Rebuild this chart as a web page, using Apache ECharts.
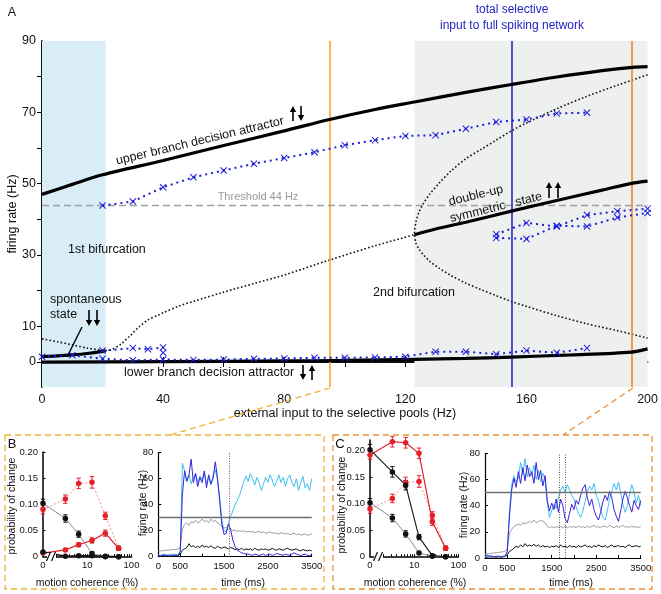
<!DOCTYPE html>
<html><head><meta charset="utf-8">
<script src="https://cdn.jsdelivr.net/npm/echarts@6/dist/echarts.min.js"></script>
<style>html,body{margin:0;padding:0;background:#fff}#c{width:661px;height:594px}</style>
</head><body><div id="c"></div>
<script>
// ================= DATA =================
// Panel A: bifurcation diagram (x = external input Hz, y = firing rate Hz)
const upperBranch = [[0,47],[10,49.8],[20,52.5],[40,56.5],[60,60.7],[80,64.8],[95,68],[110,70.8],[123,72.9],[140,75.6],[155,77.8],[170,79.9],[185,81.7],[195,82.6],[200,82.8]];
const lowerBranch = [[0,0],[40,0.1],[80,0.3],[100,0.45],[123,0.75],[140,1],[155,1.4],[175,2],[194.7,2.8],[200,3.7]];
const spontaneous = [[0,1.5],[5,1.7],[10,2],[15,2.4],[20,3],[21,3.2]];
const doubleUp = [[123,35.7],[130,37.3],[140,39.2],[155,42.3],[170,45.3],[185,48.2],[194.7,50.1],[200,50.7]];
const unstableLow = [[0,6.5],[5,5.7],[10,4.8],[15,3.9],[21,3.2]];
const unstableRise = [[21,3.2],[23,3.5],[26,5],[29,7.3],[32,9.8],[35,11.8],[38,13],[40,13.8],[45,15.6],[50,17],[60,19.6],[70,22],[80,24.4],[95,28.6],[110,32.6],[123,35.7]];
const pitchUpper = [[123,35.7],[123.5,39.3],[124.5,42],[126,44.5],[128,47],[131,50],[135,53.5],[140,57],[145,59.6],[150,62.2],[155,64.8],[160,67],[170,71],[180,74.5],[190,77.6],[200,80.5]];
const pitchLower = [[123,35.7],[123.5,33.4],[124.5,31.7],[126,30],[128,28.3],[131,26.4],[135,24.3],[140,22.1],[145,20.3],[150,18.6],[155,17],[160,15.6],[170,13],[180,10.7],[190,8.8],[200,6.7]];
const spikeUpper = [[20,43.9],[30,45],[40,49],[50,51.8],[60,53.7],[70,55.6],[80,57.2],[90,58.8],[100,60.8],[110,62.2],[120,63.4],[130,63.6],[140,65.4],[150,67.3],[160,68],[170,69.7],[180,69.9]];
const spikeLower = [[0,1.5],[10,1.9],[20,0.9],[30,0.5],[40,0.7],[50,0.6],[60,0.7],[70,0.9],[80,1.0],[90,1.2],[100,1.2],[110,1.3],[120,1.5],[130,2.9],[140,2.9],[150,2.2],[160,3.2],[170,2.6],[180,3.9]];
const spikeMid = [[20,3.2],[30,3.9],[35,3.6],[40,4.1],[40,2.6]];
const spikeDU1 = [[150,35.8],[160,39],[170,38],[180,41.2],[190,42.3],[200,43]];
const spikeDU2 = [[150,34.8],[160,34.5],[170,38.2],[180,38],[190,40.5],[200,41.8]];
const threshold = 44;
const bif1 = 21, bif2 = 123, inputB = 95, inputBlue = 155, inputC = 194.7;

// Panels B/C left: probability of change vs motion coherence
const coherence = [0, 3.2, 6.4, 12.8, 25.6, 51.2];
const bRedDotted = [0.090, 0.110, 0.140, 0.142, 0.078, 0.016];
const bRedDottedErr = [0.008, 0.008, 0.010, 0.011, 0.007, 0.004];
const bRedSolid = [0.007, 0.013, 0.023, 0.031, 0.045, 0.016];
const bRedSolidErr = [0.002, 0.003, 0.004, 0.005, 0.006, 0.004];
const bBlackThin = [0.102, 0.073, 0.043, 0.006, 0.000, 0.000];
const bBlackThinErr = [0.008, 0.007, 0.006, 0.003, 0.001, 0.001];
const bBlackSolid = [0.009, 0.001, 0.002, 0.002, 0.001, 0.000];
const cRedSolid = [0.192, 0.217, 0.215, 0.195, 0.066, 0.016];
const cRedSolidErr = [0.008, 0.010, 0.010, 0.010, 0.007, 0.004];
const cRedDotted = [0.090, 0.110, 0.140, 0.142, 0.078, 0.016];
const cRedDottedErr = [0.008, 0.008, 0.010, 0.011, 0.007, 0.004];
const cBlackSolid = [0.202, 0.160, 0.135, 0.037, 0.002, 0.000];
const cBlackSolidErr = [0.010, 0.010, 0.009, 0.005, 0.002, 0.001];
const cBlackThin = [0.102, 0.073, 0.043, 0.007, 0.001, 0.000];
const cBlackThinErr = [0.008, 0.007, 0.006, 0.003, 0.001, 0.001];

// Panels B/C right: firing rate time courses, sampled every 50 ms from 0 to 3500 ms
const timeStep = 50;
const bCyan = [1.5,1,2,1.5,1,2,1.5,1,2,1.5,3,72,66,58,63,56,61,64,57,62,59,65,56,61,55,63,67,59,46,28,20,19,26,31,35,40,43,47,52,58,62,58,64,60,55,61,57,51,56,61,57,63,59,54,58,63,57,61,54,60,63,57,54,60,51,57,62,53,56,51,60];
const bBlue = [1,0.5,1,1.5,1,0.5,1,1.5,1,1,4,48,66,58,63,75,57,64,54,61,57,66,53,63,56,60,73,61,43,25,17,18,25,21,13,8,5,4,3,2.5,2,2,1.5,1,2,1.5,1,1.5,2,1,1.5,2,1,1.5,2.5,2,1.5,1,2,1.5,1,2,3,2,1.5,1,1.5,2,1,1,1.5];
const bGray = [4,4.5,4.5,5,5,5,5.5,5.5,5.5,6,7,21,25,26,24,27,26,28,26,27,29,27,28,26,29,27,28,26,25,23,22,22.5,21,21.5,20,20.5,19.5,20,19.5,20,19,19.5,19,19.5,18.5,19,19.5,18.5,19,18,18.5,19,18,18.5,18,17.5,18.5,18,17.5,18,17,17.5,18,17,17.5,16.5,17,17.5,16.5,17,17.5];
const bBlack = [0.5,0.5,1,0.5,1,0.5,0.5,1,0.5,1,2,5,6,7,10,7.5,8.5,7,8,7,9,7.5,8,7,8.5,7,6.5,8,7,6.5,7.5,7,6,7,6.5,5.5,6,5.5,6.5,5,6,5.5,6,5,6.5,5.5,5,6,5.5,6,5,5.5,6.5,5.5,5,6,5.5,5,6,6.5,5.5,5,5.5,6,5,4.5,5.5,5,4.5,5,4.5];
const cBlue = [2,2,1.5,1.5,1,1,1.5,1,1,1.5,5,32,52,61,54,66,57,69,59,71,62,66,57,73,60,67,55,63,44,36,42,37,45,35,45,40,30,27,34,41,37,44,41,48,53,56,46,40,45,37,32,29,35,43,48,44,51,46,37,32,28,36,45,51,46,40,35,44,40,37,44];
const cCyan = [1,1,1.5,1,1,1.5,1,1,1.5,1,4,36,56,63,58,61,73,64,76,62,69,63,71,60,67,58,65,60,42,31,36,41,38,46,52,55,50,56,52,48,45,39,34,31,36,43,51,55,52,57,48,44,37,31,29,36,45,51,57,52,58,50,41,35,40,49,56,50,42,48,40];
const cGray = [3,3.2,3.4,3.6,3.8,4,4.2,4.5,4.8,5,7,19,22,24,25,26,25,27,26,27,28,27,29,27,28,29,28,27,24,23,24,23,24,23.5,24,23,24.5,23,24,23.5,24,23,24.5,23.5,24,23,24.5,23.5,24,25,23.5,24,23,24.5,24,23.5,25,24,23,24.5,23.5,24,25,23.5,24,23,24.5,23.5,24,23,24];
const cBlack = [0.5,0.5,1,0.5,1,0.5,1,0.5,1,1,2.5,5,6,7.5,9,8,10,8.5,11,9,10,9,10.5,9,10,8.5,9.5,8.5,9,8,9,8.5,9.5,8,10,8.5,9,8,9.5,8.5,9,8,9.5,8.5,9,10,8.5,9,8,9.5,8.5,10,9,8.5,9.5,8,9,10,8.5,9,9.5,8.5,9,8,9.5,10,8.5,9,9.5,8.5,9];
const bThresholdLine = 30, cThresholdLine = 50;
const bMarks = [1625], cMarks = [1660, 1810];

// ================= BUILD =================
const FONT = 'Liberation Sans, Arial, Helvetica, sans-serif';
const chart = echarts.init(document.getElementById('c'), null, {renderer:'canvas'});
const lg = c => c === 0 ? 0 : Math.log10(c);
const ts = arr => arr.map((v, i) => [i * timeStep, v]);
const cp = arr => arr.map((v, i) => [lg(coherence[i]), v]);
const ep = (arr, err) => arr.map((v, i) => [lg(coherence[i]), v - err[i], v + err[i]]);

const minorLog = [];
for (let k = 2; k <= 9; k++) minorLog.push(Math.log10(k));
minorLog.push(1);
for (let k = 2; k <= 9; k++) minorLog.push(Math.log10(k * 10));
minorLog.push(2);

function errSeries(xi, yi, data, color){
  return {type:'custom', xAxisIndex:xi, yAxisIndex:yi, z:5, silent:true, clip:false,
    renderItem:(p, api) => {
      const x = api.value(0), a = api.coord([x, api.value(2)]), b = api.coord([x, api.value(1)]);
      const w = 2.2, st = {stroke:color, lineWidth:1};
      return {type:'group', children:[
        {type:'line', shape:{x1:a[0], y1:a[1], x2:b[0], y2:b[1]}, style:st},
        {type:'line', shape:{x1:a[0]-w, y1:a[1], x2:a[0]+w, y2:a[1]}, style:st},
        {type:'line', shape:{x1:b[0]-w, y1:b[1], x2:b[0]+w, y2:b[1]}, style:st}]};
    }, data};
}
function probLine(xi, yi, arr, lineColor, markerColor, width, type){
  return {type:'line', xAxisIndex:xi, yAxisIndex:yi, data:cp(arr), symbol:'circle', symbolSize:5.5, z:6, clip:false,
    itemStyle:{color:markerColor}, lineStyle:{color:lineColor, width, type}, silent:true};
}
function trace(xi, yi, arr, color, extra){
  return Object.assign({type:'line', xAxisIndex:xi, yAxisIndex:yi, data:ts(arr), showSymbol:false, symbol:'none',
    lineStyle:{color, width:1}, silent:true, z:3}, extra || {});
}
const X_SYM = 'path://M0,1L1,0L5,4L9,0L10,1L6,5L10,9L9,10L5,6L1,10L0,9L4,5Z';
const BLUE = '#1c1cd8';
function spike(arr){
  return {type:'line', xAxisIndex:0, yAxisIndex:0, data:arr, symbol:X_SYM, symbolSize:7, showSymbol:true, z:6,
    itemStyle:{color:BLUE}, lineStyle:{color:BLUE, width:2, type:[2,4]}, silent:true};
}
function thick(arr){
  return {type:'line', xAxisIndex:0, yAxisIndex:0, data:arr, showSymbol:false, symbol:'none', smooth:0.3, z:5,
    lineStyle:{color:'#000', width:3.2}, silent:true};
}
function dotted(arr){
  return {type:'line', xAxisIndex:0, yAxisIndex:0, data:arr, showSymbol:false, symbol:'none', smooth:0.3, z:4,
    lineStyle:{color:'#111', width:1.6, type:[1.6,2.2]}, silent:true};
}

const axLine = w => ({show:true, lineStyle:{color:'#000', width:w}});
const lbl = (size, vals, extra) => Object.assign({show:true, fontSize:size, color:'#111', fontFamily:FONT, customValues:vals}, extra || {});
const tick = (vals, len) => ({show:true, inside:true, length:len, customValues:vals, lineStyle:{color:'#000', width:1}});
const every = (a, b, s) => { const r = []; for (let v = a; v <= b + 1e-9; v += s) r.push(v); return r; };
const logFmt = v => v === 0 ? '0' : String(Math.round(Math.pow(10, v)));
const plain = v => String(v);
const probFmt = v => v === 0 ? '0' : v.toFixed(2);

const grids = [
  {left:42, top:41, width:606, height:346},
  {left:43, top:452, width:88.5, height:104.7},
  {left:158.3, top:452.7, width:153.4, height:104},
  {left:370, top:440.1, width:88.5, height:116.6},
  {left:485, top:453.3, width:155.7, height:104.7}
];
const SM = 9.5;
const xAxes = [
  {type:'value', gridIndex:0, min:0, max:200, axisLine:axLine(1.5), splitLine:{show:false},
    axisLabel:lbl(12.5, [0,40,80,120,160,200], {margin:6}), axisTick:tick(every(20,180,20), 5)},
  {type:'value', gridIndex:0, min:0, max:200, position:'top', axisLine:axLine(1.5), splitLine:{show:false},
    axisLabel:{show:false}, axisTick:tick(every(20,180,20), 5)},
  {type:'value', gridIndex:1, min:0, max:2, axisLine:axLine(1.5), splitLine:{show:false},
    axisLabel:lbl(SM, [0,1,2], {margin:4, formatter:logFmt}), axisTick:tick(minorLog, 2.5)},
  {type:'value', gridIndex:2, min:0, max:3500, axisLine:axLine(1.2), splitLine:{show:false},
    axisLabel:lbl(SM, [0,500,1500,2500,3500], {margin:5, formatter:plain}), axisTick:tick(every(500,3500,500), 3)},
  {type:'value', gridIndex:3, min:0, max:2, axisLine:axLine(1.5), splitLine:{show:false},
    axisLabel:lbl(SM, [0,1,2], {margin:4, formatter:logFmt}), axisTick:tick(minorLog, 2.5)},
  {type:'value', gridIndex:4, min:0, max:3500, axisLine:axLine(1.2), splitLine:{show:false},
    axisLabel:lbl(SM, [0,500,1500,2500,3500], {margin:5, formatter:plain}), axisTick:tick(every(500,3500,500), 3)}
];
const yAxes = [
  {type:'value', gridIndex:0, min:-7, max:90, axisLine:axLine(1.5), splitLine:{show:false},
    axisLabel:lbl(12.5, [0,10,30,50,70,90], {margin:6}), axisTick:tick([0,10,30,50,70], 5)},
  {type:'value', gridIndex:0, min:-7, max:90, position:'right', axisLine:axLine(1.5), splitLine:{show:false},
    axisLabel:{show:false}, axisTick:tick(every(0,80,10), 5)},
  {type:'value', gridIndex:1, min:0, max:0.2, axisLine:axLine(1.5), splitLine:{show:false},
    axisLabel:lbl(SM, [0,0.05,0.1,0.15,0.2], {margin:5, formatter:probFmt}), axisTick:tick([0.05,0.1,0.15,0.2], 2.5)},
  {type:'value', gridIndex:2, min:0, max:80, axisLine:axLine(1.2), splitLine:{show:false},
    axisLabel:lbl(SM, [0,20,40,60,80], {margin:5}), axisTick:tick([20,40,60,80], 3)},
  {type:'value', gridIndex:3, min:0, max:0.22, axisLine:axLine(1.5), splitLine:{show:false},
    axisLabel:lbl(SM, [0,0.05,0.1,0.15,0.2], {margin:5, formatter:probFmt}), axisTick:tick([0.05,0.1,0.15,0.2], 2.5)},
  {type:'value', gridIndex:4, min:0, max:80, axisLine:axLine(1.2), splitLine:{show:false},
    axisLabel:lbl(SM, [0,20,40,60,80], {margin:5}), axisTick:tick([20,40,60,80], 3)}
];

const vline = (x, color, width, type) => ({xAxis:x, lineStyle:{color, width, type:type || 'solid'}});
const series = [
  {type:'line', xAxisIndex:0, yAxisIndex:0, data:[], z:1, silent:true,
    markArea:{silent:true, data:[
      [{xAxis:0, yAxis:-7, itemStyle:{color:'#d9edf7'}}, {xAxis:bif1, yAxis:90}],
      [{xAxis:bif2, yAxis:-7, itemStyle:{color:'#eef0f0'}}, {xAxis:200, yAxis:90}]]},
    markLine:{silent:true, symbol:'none', label:{show:false}, animation:false, data:[
      vline(inputB, '#f3a82b', 1.6), vline(inputC, '#ef8b22', 1.6), vline(inputBlue, '#2a2ab8', 1.6),
      {yAxis:threshold, lineStyle:{color:'#a0a0a0', width:1.3, type:[7,4]}}]}},
  dotted(unstableLow), dotted(unstableRise),
  dotted(pitchUpper.slice().reverse().concat(pitchLower.slice(1))),
  thick(upperBranch), thick(lowerBranch), thick(spontaneous), thick(doubleUp),
  spike(spikeUpper), spike(spikeLower), spike(spikeMid), spike(spikeDU1), spike(spikeDU2),

  // B left
  probLine(2, 2, bRedDotted, '#f08c8c', '#e4202a', 1, [2,2]),
  probLine(2, 2, bRedSolid, '#e4202a', '#e4202a', 1.2, 'solid'),
  probLine(2, 2, bBlackThin, '#8a8a8a', '#111', 1, 'solid'),
  probLine(2, 2, bBlackSolid, '#111', '#111', 1.5, 'solid'),
  errSeries(2, 2, ep(bRedDotted, bRedDottedErr), '#e4202a'),
  errSeries(2, 2, ep(bRedSolid, bRedSolidErr), '#e4202a'),
  errSeries(2, 2, ep(bBlackThin, bBlackThinErr), '#111'),
  // C left
  probLine(4, 4, cRedDotted, '#f08c8c', '#e4202a', 1, [2,2]),
  probLine(4, 4, cRedSolid, '#e4202a', '#e4202a', 1.2, 'solid'),
  probLine(4, 4, cBlackThin, '#8a8a8a', '#111', 1, 'solid'),
  probLine(4, 4, cBlackSolid, '#222', '#111', 1.2, 'solid'),
  errSeries(4, 4, ep(cRedDotted, cRedDottedErr), '#e4202a'),
  errSeries(4, 4, ep(cRedSolid, cRedSolidErr), '#e4202a'),
  errSeries(4, 4, ep(cBlackThin, cBlackThinErr), '#111'),
  errSeries(4, 4, ep(cBlackSolid, cBlackSolidErr), '#111'),

  // B right
  trace(3, 3, bGray, '#9c9c9c', {markLine:{silent:true, symbol:'none', label:{show:false}, animation:false, data:[
    {yAxis:bThresholdLine, lineStyle:{color:'#707070', width:1.3, type:'solid'}},
    ...bMarks.map(m => vline(m, '#555', 1, [1,1.5]))]}}),
  trace(3, 3, bBlack, '#111'),
  trace(3, 3, bCyan, '#3fc0ee'),
  trace(3, 3, bBlue, '#3b22d8', {z:4}),
  // C right
  trace(5, 5, cGray, '#9c9c9c', {markLine:{silent:true, symbol:'none', label:{show:false}, animation:false, data:[
    {yAxis:cThresholdLine, lineStyle:{color:'#707070', width:1.3, type:'solid'}},
    ...cMarks.map(m => vline(m, '#555', 1, [1,1.5]))]}}),
  trace(5, 5, cBlack, '#111'),
  trace(5, 5, cCyan, '#3fc0ee'),
  trace(5, 5, cBlue, '#3b22d8', {z:4})
];

// ---------- annotations ----------
const T = (text, x, y, opt) => Object.assign({type:'text', x, y, z:100, silent:true,
  style:Object.assign({text, fontSize:12.5, fontFamily:FONT, fill:'#111', align:'center', verticalAlign:'middle'}, (opt && opt.style) || {})},
  opt && opt.rotation !== undefined ? {rotation:opt.rotation} : {});
const L = (x1, y1, x2, y2, stroke, lw, dash) => ({type:'line', z:100, silent:true, shape:{x1, y1, x2, y2},
  style:{stroke, lineWidth:lw, lineDash:dash || null}});
function arrow(x, y1, y2, up){
  const head = 6, hw = 3.2;
  const tip = up ? y1 : y2;
  const base = up ? y1 + head : y2 - head;
  return [
    L(x, up ? base : y1, x, up ? y2 : base, '#000', 1.6),
    {type:'polygon', z:100, silent:true, shape:{points:[[x, tip], [x - hw, base], [x + hw, base]]}, style:{fill:'#000'}}
  ];
}
const deg = d => d * Math.PI / 180;
const NS = 10.5;
const graphic = [
  T('A', 12, 13),
  T('total selective', 512, 10, {style:{fill:'#2323c4', fontSize:12}}),
  T('input to full spiking network', 512, 26, {style:{fill:'#2323c4', fontSize:12}}),
  T('firing rate (Hz)', 13, 214, {rotation:deg(90)}),
  T('external input to the selective pools (Hz)', 345, 414),
  T('upper branch decision attractor', 200, 141, {rotation:deg(13.6)}),
  T('Threshold 44 Hz', 258, 197, {style:{fill:'#9a9a9a', fontSize:11}}),
  T('1st bifurcation', 68, 250, {style:{align:'left'}}),
  T('spontaneous', 50, 300, {style:{align:'left'}}),
  T('state', 50, 315, {style:{align:'left'}}),
  L(82, 327, 67, 357, '#000', 1.4),
  T('lower branch decision attractor', 124, 373, {style:{align:'left'}}),
  T('2nd bifurcation', 373, 293, {style:{align:'left'}}),
  T('double-up', 476, 195.5, {rotation:deg(13.8)}),
  T('symmetric   state', 496, 207.5, {rotation:deg(13.8)}),
  ...arrow(293, 106, 121, true), ...arrow(301, 106, 121, false),
  ...arrow(89, 310, 326, false), ...arrow(97, 310, 326, false),
  ...arrow(303, 365, 380, false), ...arrow(312, 365, 380, true),
  ...arrow(549, 182, 198, true), ...arrow(558, 182, 198, true),

  // panel boxes and connectors
  {type:'rect', z:90, silent:true, shape:{x:5, y:435, width:319, height:154}, style:{fill:'none', stroke:'#f0b232', lineWidth:1.3, lineDash:[6,4]}},
  {type:'rect', z:90, silent:true, shape:{x:333, y:435, width:319, height:154}, style:{fill:'none', stroke:'#ee9030', lineWidth:1.3, lineDash:[6,4]}},
  L(330, 388, 170, 435, '#f0b232', 1.3, [6,4]),
  L(633, 388, 563, 435, '#ee9030', 1.3, [6,4]),
  T('B', 12, 444, {style:{fontSize:13}}),
  T('C', 340, 444, {style:{fontSize:13}}),

  // axis titles bottom
  T('probability of change', 12, 506, {rotation:deg(90), style:{fontSize:NS}}),
  T('probability of change', 342, 505, {rotation:deg(90), style:{fontSize:NS}}),
  T('firing rate (Hz)', 143, 503, {rotation:deg(90), style:{fontSize:NS}}),
  T('firing rate (Hz)', 464, 505, {rotation:deg(90), style:{fontSize:NS}}),
  T('motion coherence (%)', 87, 583, {style:{fontSize:NS}}),
  T('motion coherence (%)', 415, 583, {style:{fontSize:NS}}),
  T('time (ms)', 243, 583, {style:{fontSize:NS}}),
  T('time (ms)', 571, 583, {style:{fontSize:NS}}),

  // axis breaks
  {type:'rect', z:95, silent:true, shape:{x:47, y:553, width:9, height:7}, style:{fill:'#fff'}},
  L(46.5, 561, 50.5, 552, '#000', 1.1), L(51.5, 561, 55.5, 552, '#000', 1.1),
  {type:'rect', z:95, silent:true, shape:{x:374, y:553, width:9, height:7}, style:{fill:'#fff'}},
  L(373.5, 561, 377.5, 552, '#000', 1.1), L(378.5, 561, 382.5, 552, '#000', 1.1)
];

chart.setOption({
  animation:false,
  textStyle:{fontFamily:FONT},
  grid:grids, xAxis:xAxes, yAxis:yAxes, series, graphic
});
</script></body></html>
